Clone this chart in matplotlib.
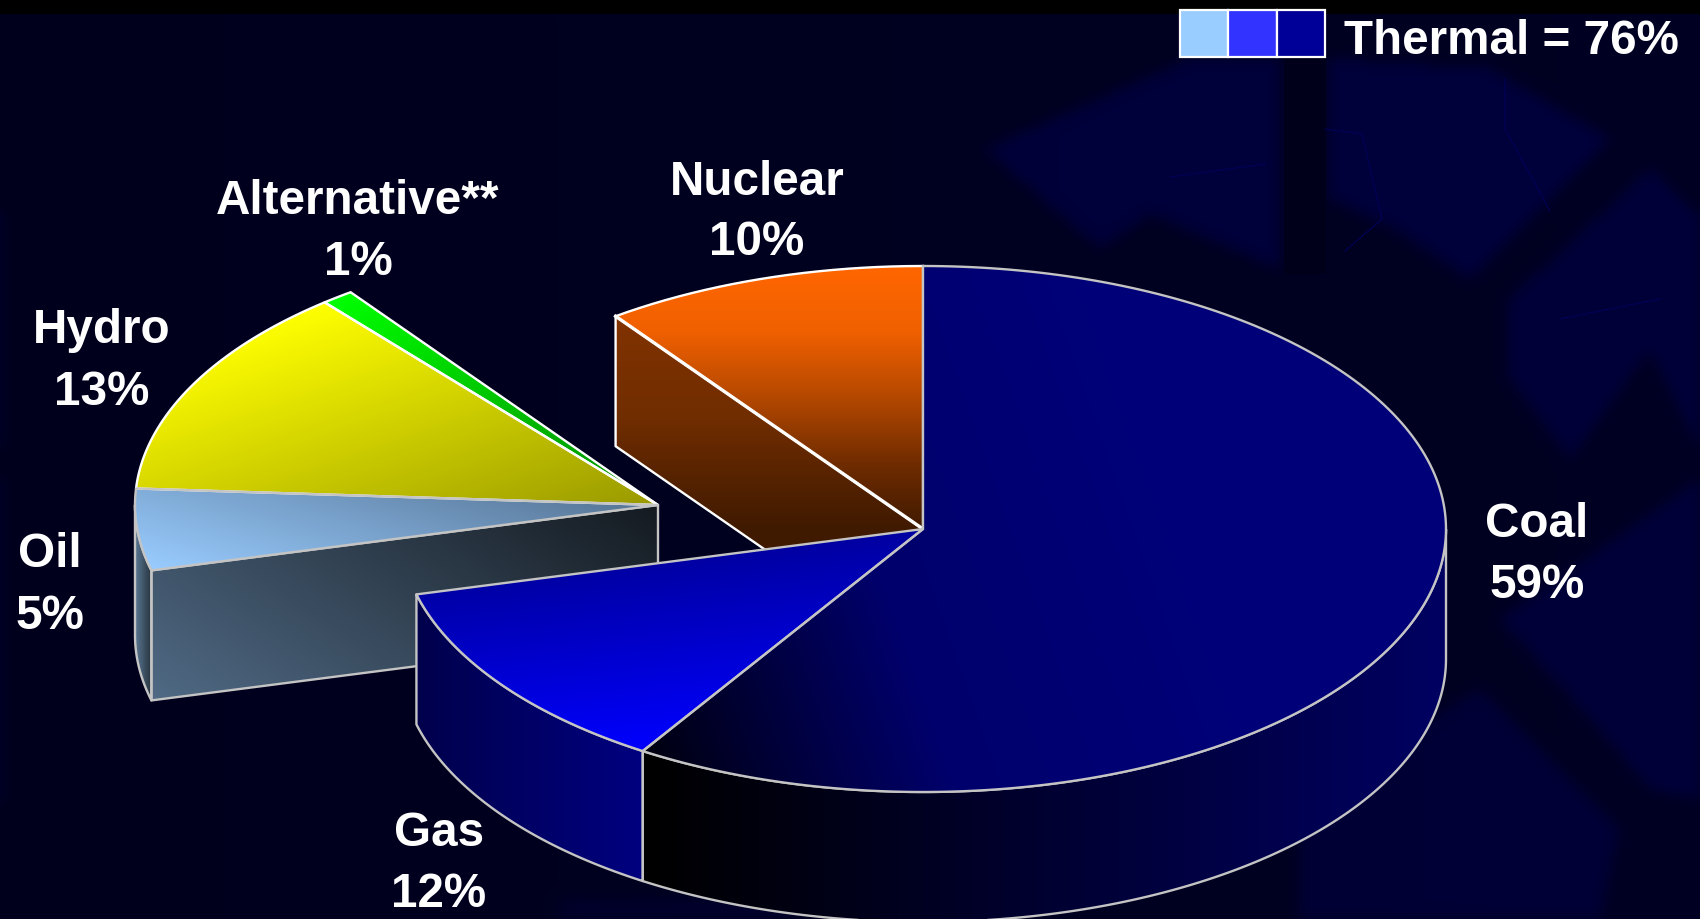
import numpy as np
import matplotlib
matplotlib.use("Agg")
import matplotlib.pyplot as plt
from matplotlib.patches import Polygon, Rectangle
from matplotlib.path import Path
from matplotlib.colors import to_rgb

# ---- data ----
categories = ["Coal", "Gas", "Oil", "Hydro", "Alternative**", "Nuclear"]
shares = [59, 12, 5, 13, 1, 10]
exploded = [False, False, True, True, True, False]
thermal_total = 76
thermal_colors = ["#99ccff", "#3333ff", "#000099"]

# ---- geometry (figure pixels) ----
CX, CY, RX, RY, DEPTH = 923, 530, 523, 263, 130
EX_DX, EX_DY = -265, -24
GRAY, WHITE = "#c4c4c4", "#ffffff"
LW = 1.7

plt.rcParams["font.family"] = ["Liberation Sans", "DejaVu Sans"]
fig = plt.figure(figsize=(17, 9.2), dpi=100, facecolor="#000022")
ax = fig.add_axes([0, 0, 1, 1])
ax.axis("off")


def pt(t, dx=0, dy=0):
    t = np.radians(t)
    return np.column_stack([CX + dx + RX * np.sin(t), CY + dy - RY * np.cos(t)])


def arc(t0, t1, dx=0, dy=0):
    return pt(np.linspace(t0, t1, 200), dx, dy)


def grad_fill(points, colors, direction, z, span=None):
    """Fill polygon with a linear gradient along direction."""
    points = np.asarray(points)
    x0, y0 = points.min(0)
    x1, y1 = points.max(0)
    xs, ys = np.meshgrid(np.linspace(x0, x1, 300), np.linspace(y0, y1, 300))
    d = np.asarray(direction, float)
    d /= np.hypot(*d)
    proj = xs * d[0] + ys * d[1]
    if span is None:
        pp = points @ d
        span = (pp.min(), pp.max())
    u = (proj - span[0]) / (span[1] - span[0])
    stops = np.linspace(0, 1, len(colors))
    rgb = np.array([to_rgb(c) for c in colors])
    img = np.dstack([np.interp(u, stops, rgb[:, i]) for i in range(3)])
    im = ax.imshow(img, extent=(x0, x1, y1, y0), origin="upper", aspect="auto",
                   zorder=z, interpolation="bilinear")
    clip = Polygon(points, closed=True, transform=ax.transData)
    im.set_clip_path(clip)


def outline(points, color, z, closed=True, lw=LW):
    ax.add_patch(Polygon(points, closed=closed, fill=False, edgecolor=color,
                         lw=lw, zorder=z, joinstyle="round"))


# ---- background: faint soft-edged decoration ----
H, W = 920, 1700
gx, gy = np.meshgrid(np.arange(0, W, 4) + 2.0, np.arange(0, H, 4) + 2.0)
grid = np.column_stack([gx.ravel(), gy.ravel()])
bg_shapes = [
    ([(985, 150), (1190, 60), (1280, 60), (1280, 270), (1150, 215), (1100, 250)], 1.0),
    ([(1330, 60), (1490, 70), (1610, 140), (1470, 280), (1395, 230), (1330, 200)], 1.0),
    ([(1510, 300), (1650, 170), (1700, 220), (1700, 450), (1650, 350), (1570, 460), (1510, 380)], 0.9),
    ([(1500, 620), (1700, 480), (1700, 800), (1650, 790), (1590, 720)], 0.9),
    ([(1300, 800), (1480, 690), (1620, 830), (1600, 920), (1300, 920)], 0.8),
    ([(560, 900), (800, 900), (800, 920), (560, 920)], 0.5),
]
light = np.zeros(gx.shape)
for verts, strength in bg_shapes:
    mask = Path(verts).contains_points(grid).reshape(gx.shape)
    light = np.maximum(light, mask * strength)
for _ in range(6):  # soften the edges
    light = (light + np.roll(light, 1, 0) + np.roll(light, -1, 0)
             + np.roll(light, 1, 1) + np.roll(light, -1, 1)) / 5
blue = 0.115 + 0.02 * gx / W + 0.10 * light
bg = np.dstack([np.zeros_like(blue), np.zeros_like(blue), blue])
ax.imshow(bg, extent=(0, W, H, 0), origin="upper", aspect="auto", zorder=0,
          interpolation="bilinear")
ax.add_patch(Rectangle((1284, 15), 42, 260, facecolor="#00001a", edgecolor="none", zorder=0.3))
ax.add_patch(Rectangle((0, 0), W, 15, facecolor="#000000", edgecolor="none", zorder=0.5))
for line in [[(1170, 178), (1265, 165)],
             [(1325, 130), (1362, 135), (1382, 220), (1345, 252)],
             [(1505, 80), (1505, 130), (1550, 212)],
             [(1560, 320), (1660, 300)]]:
    ax.plot(*np.array(line).T, color="#000058", lw=0.8, zorder=0.4)

# ---- slice angles (clockwise from top) ----
cum = np.cumsum([0] + shares) * 3.6
ang = {c: (cum[i], cum[i + 1]) for i, c in enumerate(categories)}
off = {c: ((EX_DX, EX_DY) if e else (0, 0)) for c, e in zip(categories, exploded)}


def top_poly(name):
    a0, a1 = ang[name]
    dx, dy = off[name]
    return np.vstack([[CX + dx, CY + dy], arc(a0, a1, dx, dy)])


def rim_wall(t0, t1, dx=0, dy=0):
    a = arc(t0, t1, dx, dy)
    return np.vstack([a, (a + [0, DEPTH])[::-1]])


# ---- exploded group: oil, hydro, alternative ----
ox, oy = off["Oil"]
apex = np.array([[CX + ox, CY + oy]])
oil_a0, oil_a1 = ang["Oil"]
corner = pt(np.array([oil_a0]), ox, oy)
oil_front = np.vstack([corner, apex, apex + [0, DEPTH], corner + [0, DEPTH]])
grad_fill(oil_front, ["#506a85", "#141a20"], (0.65, -1), 2)
outline(oil_front, GRAY, 2.1)
rim = rim_wall(oil_a0, 270, ox, oy)
grad_fill(rim, ["#5a7894", "#26323c"], (1, 0), 2)
outline(rim, GRAY, 2.1)

grad_fill(top_poly("Hydro"), ["#ffff00", "#999900"], (0.35, 1), 3)
grad_fill(top_poly("Alternative**"), ["#00ff00", "#008800"], (0.6, 1), 3)
grad_fill(top_poly("Oil"), ["#99ccff", "#567494"], (0.3, -1), 3)
outline(top_poly("Alternative**"), WHITE, 3.1)
outline(top_poly("Hydro"), WHITE, 3.1)
outline(top_poly("Oil"), GRAY, 3.2)

# ---- nuclear ----
n0, n1 = ang["Nuclear"]
n_corner = pt(np.array([n0]))
n_apex = np.array([[CX, CY]])
n_wall = np.vstack([n_corner, n_apex, n_apex + [0, DEPTH], n_corner + [0, DEPTH]])
grad_fill(n_wall, ["#833300", "#702d00", "#401a00"], (0, 1), 4, span=(CY - 220, CY))
outline(n_wall, WHITE, 4.1)
grad_fill(top_poly("Nuclear"), ["#ff6600", "#f06000", "#b44800", "#702c00", "#401a00"], (0, 1), 5)
ax.plot(*arc(n0, n1).T, color=WHITE, lw=LW, zorder=5.1)
ax.plot(*np.vstack([n_corner, n_apex]).T, color=WHITE, lw=2.4, zorder=5.1)
ax.plot([CX, CX], [CY, CY - RY], color=GRAY, lw=LW, zorder=5.2)

# ---- coal and gas ----
c0, c1 = ang["Coal"]
g0, g1 = ang["Gas"]
coal_wall = rim_wall(90, c1)
grad_fill(coal_wall, ["#000000", "#000062"], (1, 0), 6)
outline(coal_wall, GRAY, 6.1)
gas_wall = rim_wall(g0, g1)
grad_fill(gas_wall, ["#000080", "#00004c"], (-1, 0), 6)
outline(gas_wall, GRAY, 6.1)
grad_fill(top_poly("Coal"), ["#000010", "#00006c", "#000078", "#000078"], (1, -0.35), 7)
grad_fill(top_poly("Gas"), ["#0000a0", "#0000ff"], (0.1, 1), 7)
outline(top_poly("Coal"), GRAY, 7.1)
outline(top_poly("Gas"), GRAY, 7.1)

# ---- labels ----
label_xy = {
    "Coal": (1537, 537, 598),
    "Gas": (439, 846, 907),
    "Oil": (50, 567, 629),
    "Hydro": (102, 343, 405),
    "Alternative**": (358, 214, 275),
    "Nuclear": (757, 195, 255),
}
for name, share in zip(categories, shares):
    x, y1, y2 = label_xy[name]
    ax.text(x, y1, name, color="white", fontsize=34.3, fontweight="bold",
            ha="center", va="baseline", zorder=10)
    ax.text(x, y2, f"{share}%", color="white", fontsize=34.3, fontweight="bold",
            ha="center", va="baseline", zorder=10)

# ---- thermal key ----
for i, col in enumerate(thermal_colors):
    ax.add_patch(Rectangle((1180 + i * 48.3, 10.5), 48.3, 47.5, facecolor=col,
                           edgecolor="white", lw=1.6, zorder=10))
ax.text(1344, 54, f"Thermal = {thermal_total}%", color="white", fontsize=34.3,
        fontweight="bold", ha="left", va="baseline", zorder=10)

ax.set_xlim(0, W)
ax.set_ylim(H, 0)
fig.savefig("out.png", dpi=100, facecolor=fig.get_facecolor())
